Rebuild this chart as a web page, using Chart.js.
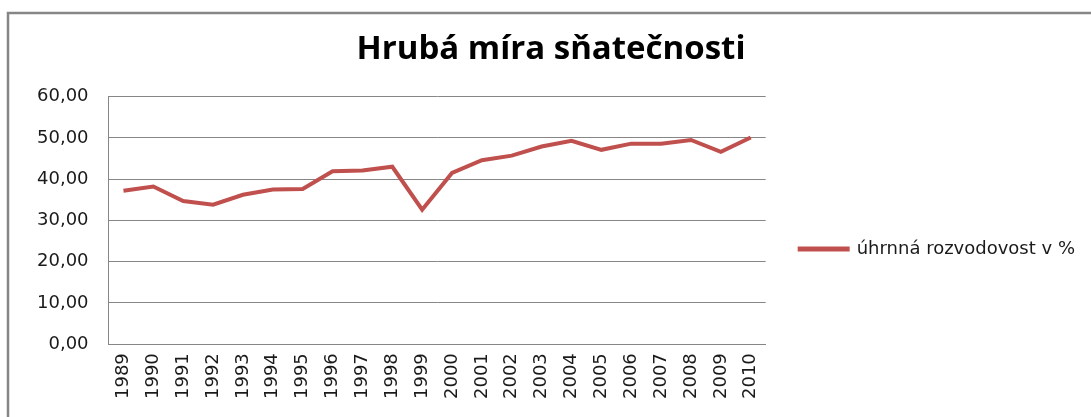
<html>

<head>
    <script src="https://cdn.jsdelivr.net/npm/chart.js@4"></script>
    <style>
        body {
            margin: 0;
            background: #fff;
        }

        .col {
            width: 1091px;
            height: 417px;
        }
    </style>
</head>

<body>
    <div class="col">
        <canvas id="myChart"></canvas>
    </div>
    <script>
        // data
        const years = ["1989", "1990", "1991", "1992", "1993", "1994", "1995", "1996", "1997", "1998", "1999",
            "2000", "2001", "2002", "2003", "2004", "2005", "2006", "2007", "2008", "2009", "2010"];
        const rozvodovost = [37.2, 38.2, 34.7, 33.8, 36.2, 37.5, 37.6, 41.9, 42.1, 43.0, 32.6,
            41.5, 44.6, 45.7, 47.9, 49.3, 47.1, 48.6, 48.6, 49.5, 46.6, 50.1];
        const seriesName = "úhrnná rozvodovost v %";
        const chartTitle = "Hrubá míra sňatečnosti";
        const yTicks = [0, 10, 20, 30, 40, 50, 60];

        const lineColor = "#C0504D";
        const gridColor = "#868686";
        const textColor = "#1a1a1a";

        // grey frame around the whole chart
        const frame = {
            id: "frame",
            beforeDraw(chart) {
                const c = chart.ctx;
                c.save();
                c.fillStyle = "#fff";
                c.fillRect(0, 0, chart.width, chart.height);
                c.strokeStyle = gridColor;
                c.lineWidth = 2.5;
                c.strokeRect(8, 13, chart.width + 20, chart.height + 20);
                c.restore();
            }
        };

        // let the legend take its natural width (layout caps it at a quarter otherwise)
        const wideLegend = {
            id: "wideLegend",
            beforeUpdate(chart) {
                const lg = chart.legend;
                if (lg && !lg._wide) {
                    const fit = lg.fit;
                    lg.fit = function () {
                        this.maxWidth = chart.width;
                        fit.call(this);
                    };
                    lg._wide = true;
                }
            }
        };

        let content = {
            labels: years,
            datasets: [{
                label: seriesName,
                data: rozvodovost,
                fill: false,
                borderColor: lineColor,
                backgroundColor: lineColor,
                borderWidth: 4,
                pointRadius: 0,
                tension: 0
            }]
        };

        var ctx = document.getElementById('myChart').getContext('2d');
        var myChart = new Chart(ctx, {
            type: 'line',
            data: content,
            plugins: [frame, wideLegend],
            options: {
                responsive: true,
                maintainAspectRatio: false,
                animation: false,
                layout: {
                    padding: { left: 17, right: 6, top: 0, bottom: 9 }
                },
                plugins: {
                    title: {
                        display: true,
                        text: chartTitle,
                        color: "#000",
                        font: { family: "'Open Sans'", size: 33, weight: "bold" },
                        padding: { top: 30, bottom: 27 }
                    },
                    legend: {
                        position: 'right',
                        align: 'start',
                        fullSize: false,
                        title: {
                            display: true,
                            text: '',
                            padding: { top: 95, bottom: 0 }
                        },
                        labels: {
                            boxWidth: 48,
                            boxHeight: 1,
                            padding: 34,
                            color: textColor,
                            font: { family: "'DejaVu Sans'", size: 18 }
                        }
                    },
                    tooltip: { enabled: false }
                },
                scales: {
                    x: {
                        offset: true,
                        grid: { display: false, drawTicks: false },
                        border: { color: gridColor, width: 1 },
                        ticks: {
                            minRotation: 90,
                            maxRotation: 90,
                            autoSkip: false,
                            padding: 9,
                            color: textColor,
                            font: { family: "'DejaVu Sans'", size: 18 }
                        }
                    },
                    y: {
                        min: 0,
                        max: 60,
                        afterBuildTicks: (axis) => {
                            axis.ticks = yTicks.map(v => ({ value: v }));
                        },
                        grid: { color: gridColor, lineWidth: 1, drawTicks: false },
                        border: { color: gridColor, width: 1 },
                        ticks: {
                            padding: 20,
                            color: textColor,
                            font: { family: "'DejaVu Sans'", size: 18 },
                            callback: (v) => v.toFixed(2).replace('.', ',')
                        }
                    }
                }
            }
        });
    </script>
</body>

</html>
